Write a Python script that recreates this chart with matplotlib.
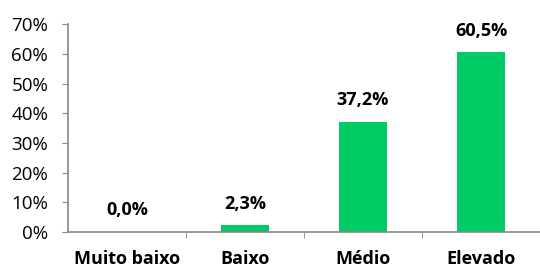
import matplotlib
matplotlib.use("Agg")
import matplotlib.pyplot as plt
import numpy as np
from matplotlib.ticker import FuncFormatter

categories = ["Muito baixo", "Baixo", "Médio", "Elevado"]
values = [0.0, 2.3, 37.2, 60.5]
yticks = [0, 10, 20, 30, 40, 50, 60, 70]

plt.rcParams['font.family'] = ['Open Sans', 'DejaVu Sans']

fig = plt.figure(figsize=(5.4, 2.68), dpi=100)
ax = fig.add_axes([0.126, 0.134, 0.874, 0.776])

x = np.arange(len(categories))
ax.bar(x, values, width=0.41, color="#00CC66")
for xi, v in zip(x, values):
    ax.annotate(f"{v:.1f}%".replace(".", ","), xy=(xi, v), xytext=(0, 12),
                textcoords="offset points", ha="center", va="baseline",
                fontsize=13, fontweight="bold", color="black")

ax.set_xlim(-0.5, len(categories) - 0.5)
ax.set_ylim(0, 70)
ax.set_yticks(yticks)
ax.yaxis.set_major_formatter(FuncFormatter(lambda v, p: f"{v:.0f}%"))
ax.set_xticks(x)
ax.set_xticklabels(categories, fontsize=13, fontweight="bold")
ax.set_xticks(np.arange(0.5, len(categories) - 1, 1), minor=True)
ax.tick_params(axis="x", which="major", length=0, pad=13)
ax.tick_params(axis="x", which="minor", length=4, color="#888888", direction="out")
ax.tick_params(axis="y", length=4.3, color="#888888", labelsize=13.5, pad=10)

for s in ["top", "right"]:
    ax.spines[s].set_visible(False)
for s in ["left", "bottom"]:
    ax.spines[s].set_color("#888888")
    ax.spines[s].set_linewidth(1.2)

fig.savefig("out.png", dpi=100)
